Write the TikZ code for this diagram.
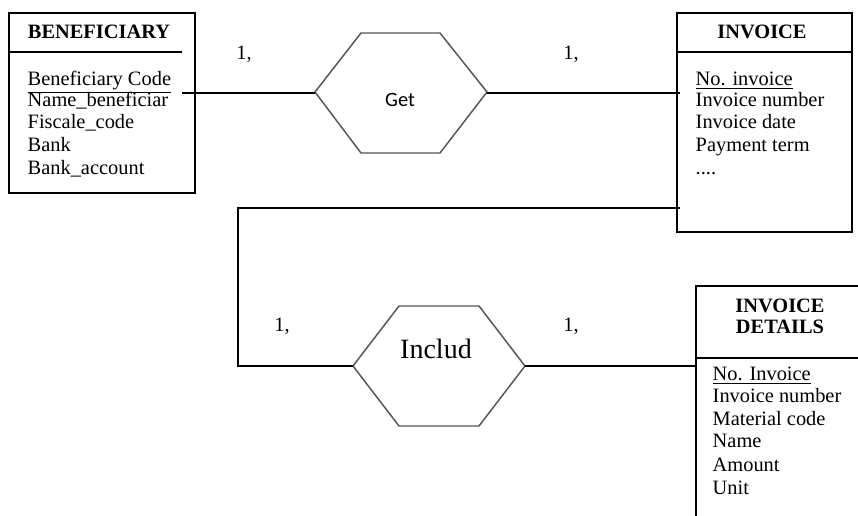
\documentclass[tikz,border=0pt]{standalone}
\usepackage{fontspec}
\setmainfont{Liberation Serif}
\newfontfamily\getfont{Carlito}
\usepackage{tikz}

\tikzset{
  attr/.style={anchor=base west, inner sep=0pt, font=\fontsize{15.3}{18}\selectfont},
  title/.style={anchor=base, inner sep=0pt, font=\fontsize{15.3}{18}\selectfont\bfseries},
  card/.style={anchor=base, inner sep=0pt, font=\fontsize{15.3}{18}\selectfont},
  hexline/.style={draw={rgb, 255:red, 85; green, 85; blue, 85}, line width=1.1}
}

\begin{document}
\begin{tikzpicture}[x=0.75pt,y=0.75pt,yscale=-1,xscale=1,line width=1.1]
\useasboundingbox (0,0) rectangle (858,516);

%Shape: Rectangle [beneficiary]
\draw (9,13) rectangle (195,193);
\draw (9,52) -- (182,52);
%Shape: Rectangle [invoice]
\draw (677,13) rectangle (852,232);
\draw (677,52) -- (852,52);
%Shape: Rectangle [invoice details, cut at the page edge]
\draw (858,286) -- (696,286) -- (696,516);
\draw (696,358) -- (858,358);

%Shape: Hexagon [get]
\draw [hexline] (315,92) -- (361,33) -- (440,33) -- (487,92) -- (440,153) -- (361,153) -- cycle;
%Shape: Hexagon [includ]
\draw [hexline] (353,366) -- (399,306) -- (479,306) -- (525,366) -- (479,426) -- (399,426) -- cycle;

% connection points
\coordinate (benR) at (182,93);
\coordinate (getL) at (315,93);
\coordinate (getR) at (487,93);
\coordinate (invL) at (680,93);
\coordinate (invB) at (680,208);
\coordinate (loopA) at (238,208);
\coordinate (loopB) at (238,366);
\coordinate (incL) at (353,366);
\coordinate (incR) at (525,366);
\coordinate (detL) at (696,366);

%Straight Lines
\draw (benR) -- (getL);
\draw (getR) -- (invL);
\draw (invB) -- (loopA) -- (loopB) -- (incL);
\draw (incR) -- (detL);

% Text Node
\node [title] (benT) at (99,39) {BENEFICIARY};
\node [attr] (ben1) at (27,86) {\underline{Beneficiary Code}};
\node [attr] (ben2) at (27,107) {Name\_beneficiar};
\node [attr] (ben3) at (27,129) {Fiscale\_code};
\node [attr] (ben4) at (27,152) {Bank};
\node [attr] (ben5) at (27,175) {Bank\_account};
% Text Node
\node [title] (invT) at (762,39) {INVOICE};
\node [attr] (inv1) at (695,86) {\underline{No. invoice}};
\node [attr] (inv2) at (695,107) {Invoice number};
\node [attr] (inv3) at (695,129) {Invoice date};
\node [attr] (inv4) at (695,152) {Payment term};
\node [attr] (inv5) at (695,175) {....};
% Text Node
\node [title] (detT1) at (780,313) {INVOICE};
\node [title] (detT2) at (780,334) {DETAILS};
\node [attr] (det1) at (712,381) {\underline{No. Invoice}};
\node [attr] (det2) at (712,403) {Invoice number};
\node [attr] (det3) at (712,426) {Material code};
\node [attr] (det4) at (712,448) {Name};
\node [attr] (det5) at (712,472) {Amount};
\node [attr] (det6) at (712,495) {Unit};
% Text Node
\node [anchor=base, inner sep=0pt, font=\getfont\fontsize{15.3}{18}\selectfont] (getT) at (400,107) {Get};
\node [anchor=base, inner sep=0pt, font=\fontsize{21}{24}\selectfont] (incT) at (436,359) {Includ};
% Text Node
\node [card] (c1) at (244,60) {1,};
\node [card] (c2) at (571,60) {1,};
\node [card] (c3) at (282,332) {1,};
\node [card] (c4) at (571,332) {1,};
\end{tikzpicture}
\end{document}
